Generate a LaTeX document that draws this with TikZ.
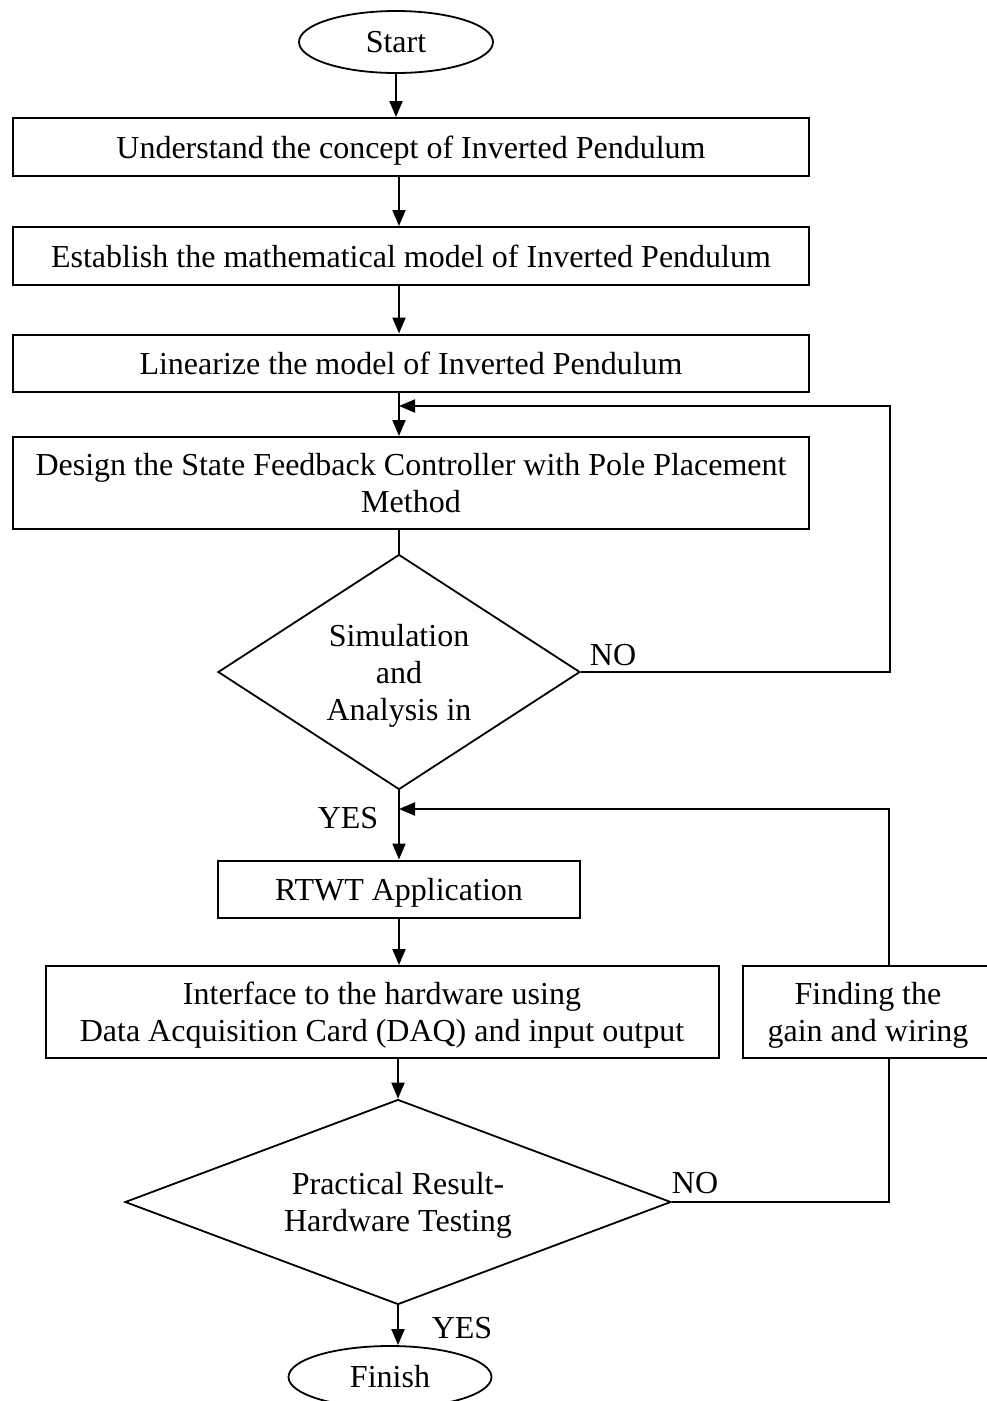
\documentclass[tikz,border=0pt]{standalone}
\usepackage{fontspec}
\setmainfont{Liberation Serif}
\usepackage{tikz}
\usetikzlibrary{shapes.geometric,arrows.meta}
\tikzset{
  every node/.style={font=\fontsize{32}{37}\selectfont, inner sep=0pt},
  process/.style={rectangle, draw, line width=2pt, align=center, text depth=0pt},
  decision/.style={diamond, draw, line width=1.8pt, align=center, text depth=0pt},
  terminal/.style={ellipse, draw, line width=1.8pt},
  arr/.style={-{Triangle[length=16pt,width=13pt]}},
  line/.style={line width=2pt}
}

\begin{document}
\begin{tikzpicture}[x=1pt, y=-1pt, line]
    \useasboundingbox (0,0) rectangle (986,1401);
    % boxes of the main flow
    \node[terminal, minimum width=194, minimum height=62] (start) at (396,42) {Start};
    \node[process, minimum width=796, minimum height=58] (understand) at (411,147) {Understand the concept of Inverted Pendulum};
    \node[process, minimum width=796, minimum height=58] (model) at (411,256) {Establish the mathematical model of Inverted Pendulum};
    \node[process, minimum width=796, minimum height=57] (linear) at (411,363) {Linearize the model of Inverted Pendulum};
    \node[process, minimum width=796, minimum height=92] (design) at (411,483) {Design the State Feedback Controller with Pole Placement\\Method};
    \node[decision, aspect=1.54, minimum width=362, minimum height=235] (sim) at (399,672) {Simulation\\and\\Analysis in};
    \node[process, minimum width=362, minimum height=57] (rtwt) at (399,889) {RTWT Application};
    \node[process, minimum width=673, minimum height=92] (daq) at (382,1012) {Interface to the hardware using\\Data Acquisition Card (DAQ) and input output};
    \node[process, minimum width=250, minimum height=92] (gain) at (868,1012) {Finding the\\gain and wiring};
    \node[decision, aspect=2.66, minimum width=546, minimum height=205] (test) at (398,1202) {Practical Result-\\Hardware Testing};
    \node[terminal, minimum width=203, minimum height=62] (finish) at (390,1377) {Finish};

    % labels
    \node (no1) at (613,655) {NO};
    \node (yes1) at (348,818) {YES};
    \node (no2) at (695,1183) {NO};
    \node (yes2) at (462,1328) {YES};

    \coordinate (back1) at (890,406);
    \coordinate (back2) at (889,809);

    % connectors
    \draw[arr] (start.south) -- (start.south |- understand.north);
    \draw[arr] (understand.south -| sim.north) -- (model.north -| sim.north);
    \draw[arr] (model.south -| sim.north) -- (linear.north -| sim.north);
    \draw[arr] (linear.south -| sim.north) -- (design.north -| sim.north);
    \draw (design.south -| sim.north) -- (sim.north);
    \draw[arr] (sim.east) -| (back1) -- (back1 -| sim.north);
    \draw[arr] (sim.south) -- (rtwt.north);
    \draw[arr] (rtwt.south) -- (rtwt.south |- daq.north);
    \draw[arr] (test.north |- daq.south) -- (test.north);
    \draw (test.east) -| (back2 |- gain.south);
    \draw[arr] (back2 |- gain.north) -- (back2) -- (back2 -| sim.south);
    \draw[arr] (test.south) -- (test.south |- finish.north);
\end{tikzpicture}
\end{document}
